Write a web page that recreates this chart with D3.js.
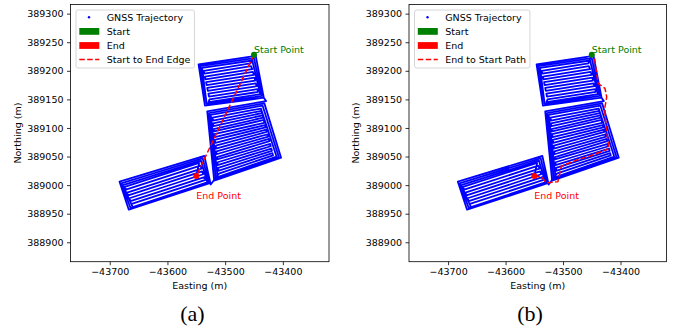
<!DOCTYPE html>
<html lang="en">
<head>
    <meta charset="UTF-8">
    <title>GNSS Trajectory</title>
    <style>
        body { margin: 0; background: #fff; }
        text { font-family: "DejaVu Sans", sans-serif; }
        text.caption { font-family: "Liberation Serif", "Times New Roman", serif; }
    </style>
</head>
<body>
    <div id="chart-container"></div>
    <script src="https://d3js.org/d3.v7.min.js"></script>
    <script>
        // tick values
        const X_TICKS = [-43700, -43600, -43500, -43400];
        const Y_TICKS = [388900, 388950, 389000, 389050, 389100, 389150, 389200, 389250, 389300];

        const START_POINT = [-43450, 389228];
        const END_POINT = [-43550, 389016];

        // upper field: parallel passes then headland loops (easting, northing)
        const field1Track = [
            [-43456, 389213], [-43537, 389200],
            [-43536, 389195], [-43455, 389208],
            [-43453, 389203], [-43535, 389190],
            [-43534, 389185], [-43452, 389198],
            [-43450, 389193], [-43533, 389180],
            [-43532, 389175], [-43449, 389188],
            [-43448, 389183], [-43531, 389170],
            [-43530, 389165], [-43447, 389178],
            [-43445, 389173], [-43529, 389160],
            [-43528, 389155], [-43444, 389168],
            [-43443, 389163], [-43527, 389150],
            [-43529, 389145], [-43439, 389159], [-43453, 389218], [-43540, 389205],
            [-43532, 389142], [-43436, 389156], [-43450, 389222], [-43543, 389208],
            [-43535, 389139], [-43433, 389153], [-43447, 389226], [-43546, 389211],
            [-43535, 389139], [-43433, 389153]
        ];

        // middle field: headland loops then parallel passes
        const field2Track = [
            [-43429, 389147], [-43531, 389129], [-43519, 389008], [-43403, 389048],
            [-43432, 389143], [-43528, 389126], [-43516, 389011], [-43407, 389049],
            [-43435, 389139], [-43525, 389123], [-43513, 389014], [-43411, 389050],
            [-43438, 389134], [-43522, 389118],
            [-43521, 389113], [-43437, 389130],
            [-43436, 389126], [-43521, 389108],
            [-43520, 389103], [-43435, 389122],
            [-43434, 389118], [-43520, 389098],
            [-43519, 389094], [-43433, 389114],
            [-43432, 389109], [-43519, 389089],
            [-43518, 389084], [-43431, 389105],
            [-43430, 389101], [-43518, 389079],
            [-43517, 389074], [-43429, 389097],
            [-43428, 389093], [-43516, 389069],
            [-43516, 389064], [-43426, 389089],
            [-43425, 389085], [-43515, 389059],
            [-43515, 389054], [-43424, 389081],
            [-43423, 389077], [-43514, 389049],
            [-43514, 389045], [-43422, 389072],
            [-43421, 389068], [-43513, 389040],
            [-43513, 389035], [-43420, 389064],
            [-43419, 389060], [-43512, 389030],
            [-43512, 389025], [-43418, 389056],
            [-43417, 389052], [-43511, 389020]
        ];

        // lower-left field: headland loops then parallel passes
        const field3Track = [
            [-43525, 389001], [-43536, 389051], [-43683, 389006], [-43667, 388957],
            [-43528, 389003], [-43539, 389047], [-43680, 389003], [-43664, 388960],
            [-43531, 389005], [-43542, 389043], [-43677, 389000], [-43661, 388963],
            [-43662, 388967], [-43534, 389009],
            [-43536, 389014], [-43664, 388972],
            [-43666, 388977], [-43538, 389019],
            [-43540, 389024], [-43668, 388982],
            [-43670, 388987], [-43541, 389029],
            [-43543, 389034], [-43672, 388992],
            [-43674, 388997], [-43545, 389039]
        ];

        // panel (b) red path, end -> start
        const endToStartPath = [
            [-43550, 389016], [-43537, 389014], [-43529, 389004], [-43509, 389006],
            [-43503, 389033], [-43476, 389044], [-43453, 389051], [-43420, 389064],
            [-43424, 389093], [-43427, 389122], [-43427, 389137], [-43424, 389154],
            [-43427, 389169], [-43439, 389178], [-43445, 389221], [-43450, 389228]
        ];

        const PANEL_CAPTIONS = ["(a)", "(b)"];
        const EDGE_LABELS = ["Start to End Edge", "End to Start Path"];

        const trajectory = [START_POINT].concat(field1Track, field2Track, field3Track, [END_POINT]);

        const WIDTH = 679, HEIGHT = 333;
        const TOP = 4.5, BOTTOM = 261.7;
        const FONT = 9.5;

        const svg = d3.select("#chart-container").append("svg")
            .attr("width", WIDTH)
            .attr("height", HEIGHT);

        function drawPanel(left, right, captionX, caption, edgeLabel, redPath) {
            const x = d3.scaleLinear().domain([-43768, -43320]).range([left, right]);
            const y = d3.scaleLinear().domain([388866, 389316]).range([BOTTOM, TOP]);
            const g = svg.append("g");
            const line = d3.line().x(d => x(d[0])).y(d => y(d[1]));

            g.append("path").datum(trajectory)
                .attr("d", line)
                .attr("fill", "none")
                .attr("stroke", "#0000ff")
                .attr("stroke-width", 1.8)
                .attr("stroke-linejoin", "round");

            g.append("path").datum(redPath)
                .attr("d", line)
                .attr("fill", "none")
                .attr("stroke", "#ff0000")
                .attr("stroke-width", 1.5)
                .attr("stroke-dasharray", "5.5,2.4");

            g.append("circle")
                .attr("cx", x(START_POINT[0])).attr("cy", y(START_POINT[1]))
                .attr("r", 3).attr("fill", "#008000");
            g.append("circle")
                .attr("cx", x(END_POINT[0])).attr("cy", y(END_POINT[1]))
                .attr("r", 3).attr("fill", "#ff0000");

            g.append("text")
                .attr("x", x(START_POINT[0])).attr("y", y(START_POINT[1] + 4))
                .attr("font-size", FONT).attr("fill", "#008000")
                .text("Start Point");
            g.append("text")
                .attr("x", x(END_POINT[0])).attr("y", y(END_POINT[1] - 40))
                .attr("font-size", FONT).attr("fill", "#ff0000")
                .text("End Point");

            // axes
            const xAxis = g.append("g")
                .attr("transform", `translate(0,${BOTTOM})`)
                .call(d3.axisBottom(x).tickValues(X_TICKS).tickSize(3.5).tickPadding(3.5).tickFormat(d3.format("d")));
            const yAxis = g.append("g")
                .attr("transform", `translate(${left},0)`)
                .call(d3.axisLeft(y).tickValues(Y_TICKS).tickSize(3.5).tickPadding(3.5).tickFormat(d3.format("d")));
            [xAxis, yAxis].forEach(a => {
                a.select(".domain").remove();
                a.selectAll("text").attr("font-size", FONT).attr("font-family", "DejaVu Sans").attr("fill", "#000");
                a.selectAll("line").attr("stroke", "#000").attr("stroke-width", 0.8);
            });

            g.append("rect")
                .attr("x", left).attr("y", TOP)
                .attr("width", right - left).attr("height", BOTTOM - TOP)
                .attr("fill", "none").attr("stroke", "#000").attr("stroke-width", 0.8);

            g.append("text")
                .attr("x", (left + right) / 2).attr("y", 289)
                .attr("text-anchor", "middle").attr("font-size", FONT)
                .text("Easting (m)");
            g.append("text")
                .attr("transform", `translate(${left - 49.7},${(TOP + BOTTOM) / 2}) rotate(-90)`)
                .attr("text-anchor", "middle").attr("font-size", FONT)
                .text("Northing (m)");

            // legend
            const lg = g.append("g").attr("transform", `translate(${left + 5.5},${TOP + 5.5})`);
            const box = lg.append("rect")
                .attr("height", 58).attr("rx", 2)
                .attr("fill", "#fff").attr("fill-opacity", 0.8)
                .attr("stroke", "#cccccc").attr("stroke-width", 0.8);
            const rows = ["GNSS Trajectory", "Start", "End", edgeLabel];
            let maxW = 0;
            rows.forEach((label, i) => {
                const cy = 7.3 + i * 14.1;
                if (i === 0) {
                    lg.append("circle").attr("cx", 13).attr("cy", cy).attr("r", 1.2).attr("fill", "#0000ff");
                } else if (i === 3) {
                    lg.append("line").attr("x1", 3.3).attr("x2", 23.3).attr("y1", cy).attr("y2", cy)
                        .attr("stroke", "#ff0000").attr("stroke-width", 1.5).attr("stroke-dasharray", "5.5,2.4");
                } else {
                    lg.append("rect").attr("x", 3.3).attr("y", cy - 3.4).attr("width", 20).attr("height", 6.8)
                        .attr("fill", i === 1 ? "#008000" : "#ff0000");
                }
                const t = lg.append("text")
                    .attr("x", 30.7).attr("y", cy).attr("dy", "0.35em")
                    .attr("font-size", FONT).attr("fill", "#000")
                    .text(label);
                maxW = Math.max(maxW, t.node().getComputedTextLength());
            });
            box.attr("width", 30.7 + maxW + 4);

            svg.append("text")
                .attr("class", "caption")
                .attr("x", captionX).attr("y", 321)
                .attr("text-anchor", "middle")
                .attr("font-size", 22)
                .text(caption);
        }

        drawPanel(70.5, 329, 192.5, PANEL_CAPTIONS[0], EDGE_LABELS[0], [START_POINT, END_POINT]);
        drawPanel(409, 666.5, 530, PANEL_CAPTIONS[1], EDGE_LABELS[1], endToStartPath);
    </script>
</body>
</html>
